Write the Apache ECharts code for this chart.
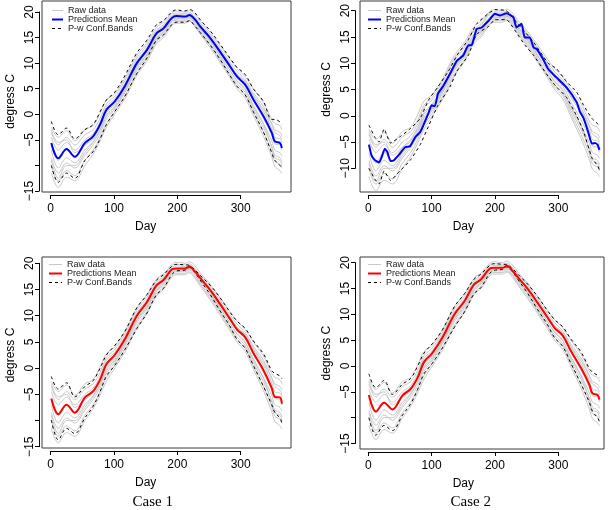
<!DOCTYPE html>
<html><head><meta charset="utf-8">
<script src="https://cdn.jsdelivr.net/npm/echarts@6/dist/echarts.min.js"></script>
<style>html,body{margin:0;padding:0;background:#fff}#c{width:610px;height:510px}</style>
</head><body><div id="c"></div>
<script>
// ---------- data ----------
const days = [1,12,25,38,54,67,78,88,101,117,136,152,167,178,191,198,212,219,228,236,252,267,283,294,307,320,336,349,354,362,365];

const raw1 = [-2.5,-4.5,-3.2,-5.2,-3.0,-2.2,0.2,2.8,4.0,7.0,11.5,14.0,17.0,18.0,19.8,20.2,20.0,20.3,19.5,18.2,16.0,13.5,10.8,9.0,7.4,5.0,2.3,-1.0,-1.8,-2.2,-3.0];
const raw2 = [-3.5,-6.0,-4.5,-6.0,-4.0,-3.0,-0.8,2.0,3.5,6.5,11.0,13.5,16.5,17.5,19.5,19.8,19.7,19.9,19.0,17.8,15.6,13.0,10.2,8.4,6.8,4.2,1.5,-1.8,-3.0,-3.5,-4.2];
const raw3 = [-4.5,-7.0,-5.5,-7.0,-5.0,-3.8,-1.5,1.5,3.0,6.0,10.5,13.0,16.2,17.2,19.2,19.5,19.4,19.6,18.8,17.5,15.2,12.6,9.8,7.8,6.2,3.5,0.5,-2.8,-4.5,-4.8,-5.5];
const raw4 = [-6.0,-9.0,-7.0,-8.5,-6.0,-4.5,-2.2,0.6,2.3,5.3,9.8,12.4,15.6,16.6,18.6,19.0,19.0,19.3,18.4,17.0,14.7,12.0,9.2,7.2,5.6,2.6,-0.8,-4.0,-5.8,-6.0,-7.0];
const raw5 = [-7.0,-10.5,-8.5,-9.5,-7.0,-5.3,-3.0,-0.2,1.6,4.8,9.2,11.8,15.0,16.2,18.3,18.8,18.6,18.9,18.0,16.6,14.2,11.4,8.6,6.5,4.8,1.8,-1.8,-5.2,-7.0,-7.5,-8.2];
const raw6 = [-8.5,-11.5,-9.5,-10.5,-8.0,-6.0,-3.8,-1.0,1.0,4.2,8.6,11.3,14.6,15.8,18.0,18.4,18.4,18.7,17.7,16.3,13.8,11.0,8.0,6.0,4.3,1.0,-2.6,-6.2,-8.0,-8.5,-9.3];
const raw7 = [-10.0,-13.0,-11.0,-12.0,-9.0,-7.0,-4.5,-1.8,0.5,3.6,8.0,10.8,14.2,15.4,17.6,18.1,18.1,18.4,17.4,16.0,13.4,10.6,7.6,5.5,3.8,0.4,-3.5,-7.3,-9.2,-9.8,-10.5];
const raw8 = [-11.5,-14.3,-12.3,-13.0,-10.0,-7.8,-5.2,-2.5,0.0,3.0,7.6,10.4,13.8,15.0,17.3,17.8,17.8,18.2,17.1,15.7,13.0,10.2,7.2,5.0,3.2,-0.2,-4.3,-8.3,-10.2,-11.0,-11.6];
const raw9 = [-3.0,-5.5,-5.0,-7.5,-6.0,-4.8,-2.5,0.3,2.0,5.0,9.5,12.2,15.4,16.5,18.7,19.1,19.0,19.2,18.2,16.8,14.4,11.6,8.6,6.6,5.0,1.5,-2.0,-6.5,-8.5,-9.0,-10.0];
const raw10 = [-9.0,-12.5,-10.0,-10.0,-7.5,-5.5,-3.2,-0.5,1.3,4.5,9.0,11.6,14.8,16.0,18.2,18.6,18.8,19.0,18.2,17.0,14.8,12.3,9.6,7.8,6.5,3.8,1.0,-2.0,-3.5,-4.2,-5.0];
const rawCurves = [raw1, raw2, raw3, raw4, raw5, raw6, raw7, raw8, raw9, raw10];

// Panel 1 (top left)
const mean1  = [-5.6,-8.6,-6.8,-8.3,-5.6,-4.3,-2.0,0.9,2.5,5.5,10.0,12.6,15.8,16.8,18.8,19.2,19.1,19.4,18.5,17.2,14.9,12.3,9.4,7.4,5.8,2.9,-0.4,-3.6,-5.3,-5.6,-6.6];
const upper1 = [-1.4,-4.0,-2.7,-4.8,-3.0,-2.0,0.5,2.8,4.3,7.5,12.0,14.5,17.5,18.3,20.0,20.4,20.2,20.5,19.8,18.5,16.3,13.8,11.0,9.2,7.8,5.0,2.5,-1.0,-1.0,-1.5,-2.0];
const lower1 = [-10.0,-13.3,-11.5,-12.5,-9.0,-7.3,-4.8,-2.0,0.5,3.5,8.0,11.0,14.5,15.5,17.5,18.0,18.0,18.3,17.2,16.0,13.5,10.8,7.6,5.5,3.8,0.5,-3.5,-7.5,-9.0,-10.0,-10.5];

// Panel 2 (top right)
const days2  = [1,5,10,17,21,26,30,35,40,50,58,66,74,82,87,95,100,105,110,118,129,140,150,158,163,171,179,190,200,208,218,229,234,242,247,255,261,266,276,284,297,313,329,334,340,347,353,358,362,365];
const mean2  = [-5.5,-7.5,-8.4,-8.9,-7.9,-6.3,-6.9,-8.6,-8.5,-7.2,-6.0,-5.8,-4.1,-3.1,-1.8,0.5,2.0,1.8,4.2,5.6,8.0,10.5,11.5,13.4,13.4,16.5,16.8,18.1,19.4,19.1,19.5,18.8,16.8,17.5,14.9,14.9,13.0,12.7,10.8,8.9,7.3,5.4,2.6,0.8,-0.5,-3.0,-5.3,-5.2,-5.5,-6.5];
const bandDays2 = [1,10,17,25,35,50,66,82,95,110,129,140,158,171,190,200,218,234,247,261,284,297,313,329,340,353,362,365];
const upper2 = [-1.8,-4.0,-5.0,-2.5,-5.2,-4.0,-2.5,-0.5,3.0,5.5,9.0,11.5,14.5,17.5,19.5,20.2,20.0,17.8,16.0,14.0,10.0,9.0,6.5,4.5,2.0,-0.5,-1.5,-2.0];
const lower2 = [-10.0,-12.0,-13.0,-10.5,-12.3,-10.5,-8.5,-5.5,-2.0,2.0,5.5,8.5,11.5,15.5,17.0,18.3,18.3,15.8,13.5,11.5,7.5,5.5,3.5,0.0,-3.0,-8.0,-9.5,-10.3];

// Panel 3 (bottom left, Case 1)
const mean3  = [-5.8,-8.8,-7.0,-8.5,-5.6,-4.4,-2.2,0.8,2.5,5.5,10.0,12.6,15.8,16.8,18.8,19.0,19.0,19.4,18.4,17.2,14.9,12.3,9.4,7.4,5.9,2.9,-0.4,-3.8,-5.5,-5.6,-6.8];
const upper3 = [-1.6,-4.0,-2.8,-5.5,-3.5,-2.4,0.0,2.5,4.3,7.0,11.5,14.0,16.8,17.8,19.4,19.8,19.7,19.6,18.7,17.7,15.8,13.5,10.7,9.0,7.6,5.2,2.7,-0.5,-1.0,-1.5,-2.0];
const lower3 = [-9.9,-13.7,-11.5,-12.5,-9.5,-7.3,-4.5,-1.5,0.5,3.5,7.5,10.5,14.0,15.2,17.8,18.5,18.7,19.2,18.2,16.8,14.0,11.0,8.0,5.5,3.8,0.5,-3.5,-7.0,-8.5,-9.5,-10.5];

// Panel 4 (bottom right, Case 2)
const mean4  = [-5.6,-8.8,-7.1,-8.4,-5.7,-4.4,-2.2,0.8,2.5,5.5,10.0,12.6,15.8,16.8,18.8,19.0,19.0,19.4,18.4,17.2,14.9,12.3,9.4,7.4,5.9,2.9,-0.4,-3.6,-5.3,-5.6,-6.5];
const upper4 = [-1.5,-4.2,-2.8,-5.5,-3.5,-2.4,0.0,2.5,4.3,7.0,11.5,14.0,16.8,17.8,19.4,19.8,19.7,19.6,18.8,17.8,15.8,13.5,10.7,9.0,7.6,5.2,2.7,-0.5,-1.2,-1.8,-2.2];
const lower4 = [-10.0,-13.4,-11.5,-12.5,-9.5,-7.3,-4.5,-1.5,0.5,3.5,7.5,10.5,14.0,15.2,17.8,18.5,18.7,19.2,18.2,16.8,14.0,11.0,8.0,5.5,3.8,0.5,-3.5,-7.0,-8.8,-10.0,-10.8];

const xTicks = [0, 100, 200, 300];
const legendNames = ['Raw data', 'Predictions Mean', 'P-w Conf.Bands'];
const caseLabels = ['Case 1', 'Case 2'];

// ---------- layout ----------
const panels = [
  {mean: mean1, mDays: days, upper: upper1, lower: lower1, bDays: days, color: '#0000ff', smooth: 0.35,
   box: {l: 42, r: 291, t: 1, b: 192}, x0: 50.7, sx: 0.6333, y20: 12, yLow: -15, yLowPx: 191,
   axX: 39, axY: 195, hideTen: true, lg: {left: 51, top: 6, w: 11}},
  {mean: mean2, mDays: days2, upper: upper2, lower: lower2, bDays: bandDays2, color: '#0000ff', smooth: 0.15,
   box: {l: 360, r: 604, t: 1, b: 192}, x0: 368.3, sx: 0.6333, y20: 10.7, yLow: -10, yLowPx: 168.3,
   axX: 355, axY: 195, hideTen: false, lg: {left: 367, top: 6, w: 13}},
  {mean: mean3, mDays: days, upper: upper3, lower: lower3, bDays: days, color: '#ff0000', smooth: 0.35,
   box: {l: 42, r: 291, t: 257, b: 448}, x0: 50.7, sx: 0.6333, y20: 263.3, yLow: -15, yLowPx: 446.7,
   axX: 39, axY: 451, hideTen: true, lg: {left: 48, top: 260, w: 13}},
  {mean: mean4, mDays: days, upper: upper4, lower: lower4, bDays: days, color: '#ff0000', smooth: 0.35,
   box: {l: 360, r: 604, t: 257, b: 449}, x0: 368.3, sx: 0.6333, y20: 262.7, yLow: -15, yLowPx: 443.5,
   axX: 355, axY: 452, hideTen: true, lg: {left: 367, top: 260, w: 13}}
];
const casePos = [[152.7, 502.5], [470.7, 502.5]];

const FONT = 'Liberation Sans, Arial, Helvetica, sans-serif';
const pair = (xs, ys) => xs.map((x, k) => [x, ys[k]]);
const noSymbol = {color: 'rgba(0,0,0,0)', borderColor: 'rgba(0,0,0,0)', borderWidth: 0, opacity: 0};

const grid = [], xAxis = [], yAxis = [], series = [], legend = [];
panels.forEach((p, i) => {
  const sy = (p.yLowPx - p.y20) / (20 - p.yLow);
  // data grid = plot box
  grid.push({left: p.box.l, top: p.box.t, width: p.box.r - p.box.l, height: p.box.b - p.box.t,
    show: true, borderColor: '#3a3a3a', borderWidth: 1, backgroundColor: 'transparent'});
  xAxis.push({type: 'value', gridIndex: 2 * i, show: false,
    min: (p.box.l - p.x0) / p.sx, max: (p.box.r - p.x0) / p.sx});
  yAxis.push({type: 'value', gridIndex: 2 * i, show: false,
    min: 20 - (p.box.b - p.y20) / sy, max: 20 + (p.y20 - p.box.t) / sy});
  // axis grid (spans tick range, axes offset like R)
  const gl = p.x0, gw = 300 * p.sx, gt = p.y20, gh = p.yLowPx - p.y20;
  grid.push({left: gl, top: gt, width: gw, height: gh, show: false});
  xAxis.push({type: 'value', gridIndex: 2 * i + 1, min: xTicks[0], max: xTicks[xTicks.length - 1], interval: 100,
    position: 'bottom', offset: p.axY - (gt + gh),
    axisLine: {show: true, onZero: false, lineStyle: {color: '#000', width: 1}},
    axisTick: {show: true, inside: false, length: 4, lineStyle: {color: '#000', width: 1}},
    axisLabel: {show: true, margin: 8, color: '#000', fontSize: 12, fontFamily: FONT},
    splitLine: {show: false},
    name: 'Day', nameLocation: 'middle', nameGap: 26,
    nameTextStyle: {color: '#000', fontSize: 12, fontFamily: FONT}});
  yAxis.push({type: 'value', gridIndex: 2 * i + 1, min: p.yLow, max: 20, interval: 5,
    position: 'left', offset: gl - p.axX,
    axisLine: {show: true, onZero: false, lineStyle: {color: '#000', width: 1}},
    axisTick: {show: true, inside: false, length: 4, lineStyle: {color: '#000', width: 1}},
    axisLabel: {show: true, rotate: 90, margin: 3, color: '#000', fontSize: 12, fontFamily: FONT,
      formatter: v => (p.hideTen && v === -10) ? '' : String(v).replace('-', '\u2212')},
    splitLine: {show: false},
    name: 'degress C', nameLocation: 'middle', nameGap: 22,
    nameTextStyle: {color: '#000', fontSize: 12, fontFamily: FONT}});

  rawCurves.forEach(rc => series.push({type: 'line', name: legendNames[0], xAxisIndex: 2 * i, yAxisIndex: 2 * i,
    data: pair(days, rc), symbol: 'none', smooth: 0.35, silent: true, z: 1,
    lineStyle: {color: '#c8c8c8', width: 1}, itemStyle: {color: '#c8c8c8'}}));
  [p.upper, p.lower].forEach(b => series.push({type: 'line', name: legendNames[2], xAxisIndex: 2 * i, yAxisIndex: 2 * i,
    data: pair(p.bDays, b), symbol: 'none', smooth: p.smooth, silent: true, z: 2,
    lineStyle: {color: '#000', width: 1, type: [3, 3]}, itemStyle: {color: '#000'}}));
  series.push({type: 'line', name: legendNames[1], xAxisIndex: 2 * i, yAxisIndex: 2 * i,
    data: pair(p.mDays, p.mean), symbol: 'none', smooth: p.smooth, silent: true, z: 3,
    lineStyle: {color: p.color, width: 2}, itemStyle: {color: p.color}});

  legend.push({orient: 'vertical', left: p.lg.left, top: p.lg.top, padding: 0, itemGap: 0,
    itemWidth: p.lg.w, itemHeight: 6, selectedMode: false,
    itemStyle: noSymbol,
    textStyle: {fontSize: 9, lineHeight: 7.6, color: '#222', fontFamily: FONT},
    data: [
      {name: legendNames[0], itemStyle: noSymbol, lineStyle: {color: '#c8c8c8', width: 1, type: 'solid'}},
      {name: legendNames[1], itemStyle: noSymbol, lineStyle: {color: p.color, width: 2, type: 'solid'}},
      {name: legendNames[2], itemStyle: noSymbol, lineStyle: {color: '#000', width: 1, type: [3, 3]}}
    ]});
});

const chart = echarts.init(document.getElementById('c'), null, {renderer: 'canvas'});
chart.setOption({
  animation: false,
  backgroundColor: '#fff',
  grid, xAxis, yAxis, series, legend,
  graphic: caseLabels.map((t, k) => ({type: 'text', x: casePos[k][0], y: casePos[k][1],
    style: {text: t, textAlign: 'center', textVerticalAlign: 'middle',
      font: '15px "Liberation Serif", "DejaVu Serif", serif', fill: '#000'}}))
});
</script></body></html>
